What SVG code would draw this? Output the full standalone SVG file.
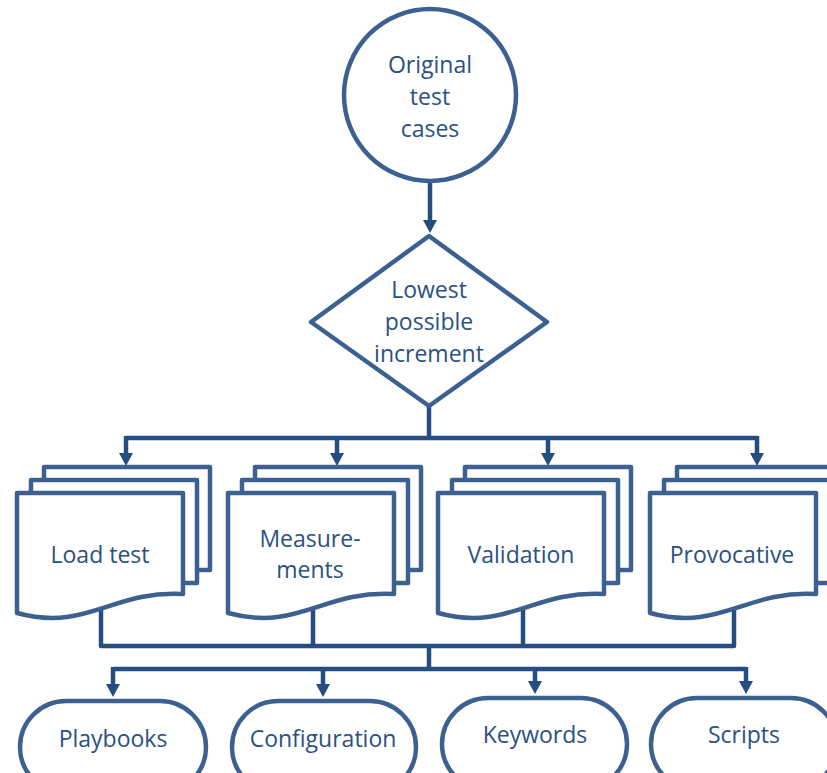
<svg xmlns="http://www.w3.org/2000/svg" width="827" height="773" viewBox="0 0 827 773">
<defs>
<style>
.s{fill:#fff;stroke:#3c6190;stroke-width:4.5;stroke-linejoin:round}
.c{fill:none;stroke:#244e82;stroke-width:4.5;stroke-linejoin:round}
.t{font-family:"Open Sans","Liberation Sans",sans-serif;font-size:23px;fill:#2b5181;text-anchor:middle}
</style>
<marker id="ah" markerUnits="userSpaceOnUse" markerWidth="16" markerHeight="16" refX="0" refY="8" orient="auto" viewBox="0 0 16 16">
<path d="M0,1 L13,8 L0,15 z" fill="#244e82"/>
</marker>
<g id="docstack">
<rect class="s" x="27" y="467" width="166" height="103"/>
<rect class="s" x="14" y="480" width="166" height="103"/>
<path class="s" d="M0,493 H166 V594 C95,590 70,632 0,613 Z"/>
</g>
</defs>
<g id="connectors">
<line class="c" x1="430" y1="183" x2="430" y2="220" marker-end="url(#ah)"/>
<path class="c" d="M429,406 V438"/>
<path class="c" d="M126,438 H757"/>
<line class="c" x1="126" y1="436" x2="126" y2="453" marker-end="url(#ah)"/>
<line class="c" x1="337" y1="438" x2="337" y2="453" marker-end="url(#ah)"/>
<line class="c" x1="548" y1="438" x2="548" y2="453" marker-end="url(#ah)"/>
<line class="c" x1="757" y1="436" x2="757" y2="453" marker-end="url(#ah)"/>
<path class="c" d="M101,600 V646 H734 V600"/>
<path class="c" d="M313,600 V646"/>
<path class="c" d="M523,600 V646"/>
<path class="c" d="M429,646 V669"/>
<path class="c" d="M113,669 H746"/>
<line class="c" x1="113" y1="667" x2="113" y2="684" marker-end="url(#ah)"/>
<line class="c" x1="323" y1="669" x2="323" y2="684" marker-end="url(#ah)"/>
<line class="c" x1="535" y1="669" x2="535" y2="681" marker-end="url(#ah)"/>
<line class="c" x1="746" y1="667" x2="746" y2="681" marker-end="url(#ah)"/>
</g>
<g id="original">
<circle class="s" cx="430" cy="95" r="86"/>
<text class="t" x="430" y="73">Original</text>
<text class="t" x="430" y="105">test</text>
<text class="t" x="430" y="137">cases</text>
</g>
<g id="lowest">
<polygon class="s" points="429,236 547,322 429,406 311,322"/>
<text class="t" x="429" y="298">Lowest</text>
<text class="t" x="429" y="330">possible</text>
<text class="t" x="429" y="362">increment</text>
</g>
<g id="loadtest">
<use href="#docstack" x="17" y="0"/>
<text class="t" x="100" y="563">Load test</text>
</g>
<g id="measurements">
<use href="#docstack" x="228" y="0"/>
<text class="t" x="310" y="547">Measure-</text>
<text class="t" x="310" y="578">ments</text>
</g>
<g id="validation">
<use href="#docstack" x="438" y="0"/>
<text class="t" x="521" y="563">Validation</text>
</g>
<g id="provocative">
<use href="#docstack" x="650" y="0"/>
<text class="t" x="732" y="563">Provocative</text>
</g>
<g id="playbooks">
<rect class="s" x="20" y="701" width="186" height="92" rx="46"/>
<text class="t" x="113" y="747">Playbooks</text>
</g>
<g id="configuration">
<rect class="s" x="232" y="701" width="184" height="92" rx="46"/>
<text class="t" x="323" y="747">Configuration</text>
</g>
<g id="keywords">
<rect class="s" x="442" y="698" width="185" height="92" rx="46"/>
<text class="t" x="535" y="743">Keywords</text>
</g>
<g id="scripts">
<rect class="s" x="651" y="698" width="186" height="92" rx="46"/>
<text class="t" x="744" y="743">Scripts</text>
</g>
</svg>
